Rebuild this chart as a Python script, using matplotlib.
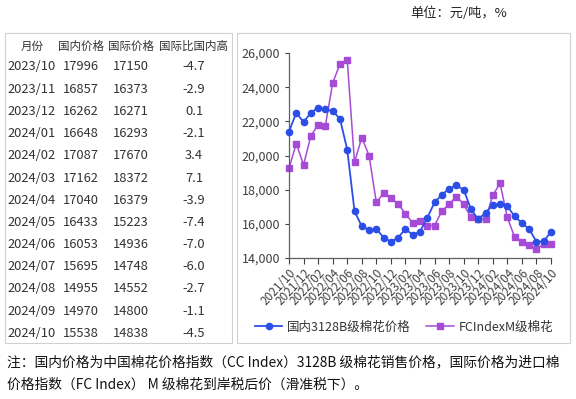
import matplotlib.pyplot as plt
from matplotlib.patches import Rectangle
from matplotlib.ticker import FuncFormatter, MultipleLocator

plt.rcParams['font.family'] = ['Noto Sans CJK SC', 'DejaVu Sans']

# 折线图数据 2021/10 - 2024/10
months = ['2021/10', '2021/11', '2021/12', '2022/01', '2022/02', '2022/03', '2022/04',
          '2022/05', '2022/06', '2022/07', '2022/08', '2022/09', '2022/10', '2022/11',
          '2022/12', '2023/01', '2023/02', '2023/03', '2023/04', '2023/05', '2023/06',
          '2023/07', '2023/08', '2023/09', '2023/10', '2023/11', '2023/12', '2024/01',
          '2024/02', '2024/03', '2024/04', '2024/05', '2024/06', '2024/07', '2024/08',
          '2024/09', '2024/10']
domestic = [21400, 22500, 21950, 22500, 22800, 22700, 22600, 22150, 20350, 16750,
            15850, 15650, 15700, 15200, 14950, 15200, 15700, 15350, 15550, 16350,
            17250, 17700, 18050, 18250, 17996, 16857, 16262, 16648, 17087, 17162,
            17040, 16433, 16053, 15695, 14955, 14970, 15538]
intl = [19250, 20700, 19450, 21150, 21800, 21750, 24250, 25350, 25600, 19600,
        21050, 20000, 17250, 17800, 17500, 17150, 16600, 16050, 16150, 15900,
        15900, 16750, 17150, 17600, 17150, 16373, 16271, 16293, 17670, 18372,
        16379, 15223, 14936, 14748, 14552, 14800, 14838]

# 表格数据
table_header = ['月份', '国内价格', '国际价格', '国际比国内高']
table_months = months[-13:]
table_dom = ['17996', '16857', '16262', '16648', '17087', '17162', '17040',
             '16433', '16053', '15695', '14955', '14970', '15538']
table_intl = ['17150', '16373', '16271', '16293', '17670', '18372', '16379',
              '15223', '14936', '14748', '14552', '14800', '14838']
table_diff = ['-4.7', '-2.9', '0.1', '-2.1', '3.4', '7.1', '-3.9',
              '-7.4', '-7.0', '-6.0', '-2.7', '-1.1', '-4.5']

W, H = 576, 399
fig = plt.figure(figsize=(W / 100, H / 100), dpi=100)


def fx(x):
    return x / W


def fy(y):
    return 1 - y / H


# 外框
for x0, x1 in [(5, 232), (237, 570)]:
    fig.patches.append(Rectangle((fx(x0), fy(343)), fx(x1 - x0), (343 - 33) / H,
                                 transform=fig.transFigure, fill=False,
                                 edgecolor='#d0d0d0', linewidth=0.8))

fig.text(fx(507), fy(13), '单位：元/吨，%', ha='right', va='center', fontsize=9.5, color='#222222')

# 表格
col_x = [32, 81, 131, 194]
for cx, h in zip(col_x, table_header):
    fig.text(fx(cx), fy(46), h, ha='center', va='center', fontsize=8.3, color='#333333')
for i in range(len(table_months)):
    y = fy(67 + i * 22.2)
    fig.text(fx(7), y, table_months[i], ha='left', va='center', fontsize=9.3, color='#333333')
    fig.text(fx(col_x[1]), y, table_dom[i], ha='center', va='center', fontsize=9.3, color='#333333')
    fig.text(fx(col_x[2]), y, table_intl[i], ha='center', va='center', fontsize=9.3, color='#333333')
    fig.text(fx(col_x[3]), y, table_diff[i], ha='center', va='center', fontsize=9.3, color='#333333')

# 折线图
ax = fig.add_axes([fx(289), fy(258), fx(551 - 289), (258 - 53) / H])
x = list(range(len(months)))
ax.plot(x, domestic, color='#2b4fe6', marker='o', markersize=4.5, linewidth=1.3,
        label='国内3128B级棉花价格', clip_on=False, zorder=3)
ax.plot(x, intl, color='#a64bd6', marker='s', markersize=4, linewidth=1.1,
        label='FCIndexM级棉花', clip_on=False, zorder=2)
ax.set_xlim(0, len(months) - 1)
ax.set_ylim(14000, 26000)
ax.yaxis.set_major_locator(MultipleLocator(2000))
ax.yaxis.set_major_formatter(FuncFormatter(lambda v, p: f'{int(v):,}'))
ax.set_xticks(x[::2])
ax.set_xticklabels(months[::2], rotation=47, ha='right', rotation_mode='anchor', fontsize=8.5)
ax.tick_params(axis='y', labelsize=9, colors='#404040', length=3, width=0.8)
ax.tick_params(axis='x', colors='#404040', length=4, width=0.8, pad=2)
for s in ['top', 'right']:
    ax.spines[s].set_visible(False)
for s in ['left', 'bottom']:
    ax.spines[s].set_color('#606060')
    ax.spines[s].set_linewidth(0.9)

ax.legend(loc='center', bbox_to_anchor=(fx(404), fy(327)), bbox_transform=fig.transFigure,
          ncol=2, frameon=False, fontsize=9, handlelength=2.2, columnspacing=1.2,
          handletextpad=0.4, labelcolor='#333333')

fig.text(fx(7), fy(362), '注：国内价格为中国棉花价格指数（CC Index）3128B 级棉花销售价格，国际价格为进口棉',
         ha='left', va='center', fontsize=9.9, color='#111111')
fig.text(fx(7), fy(385), '价格指数（FC Index） M 级棉花到岸税后价（滑准税下）。',
         ha='left', va='center', fontsize=9.9, color='#111111')

plt.savefig('out.png', dpi=100)
